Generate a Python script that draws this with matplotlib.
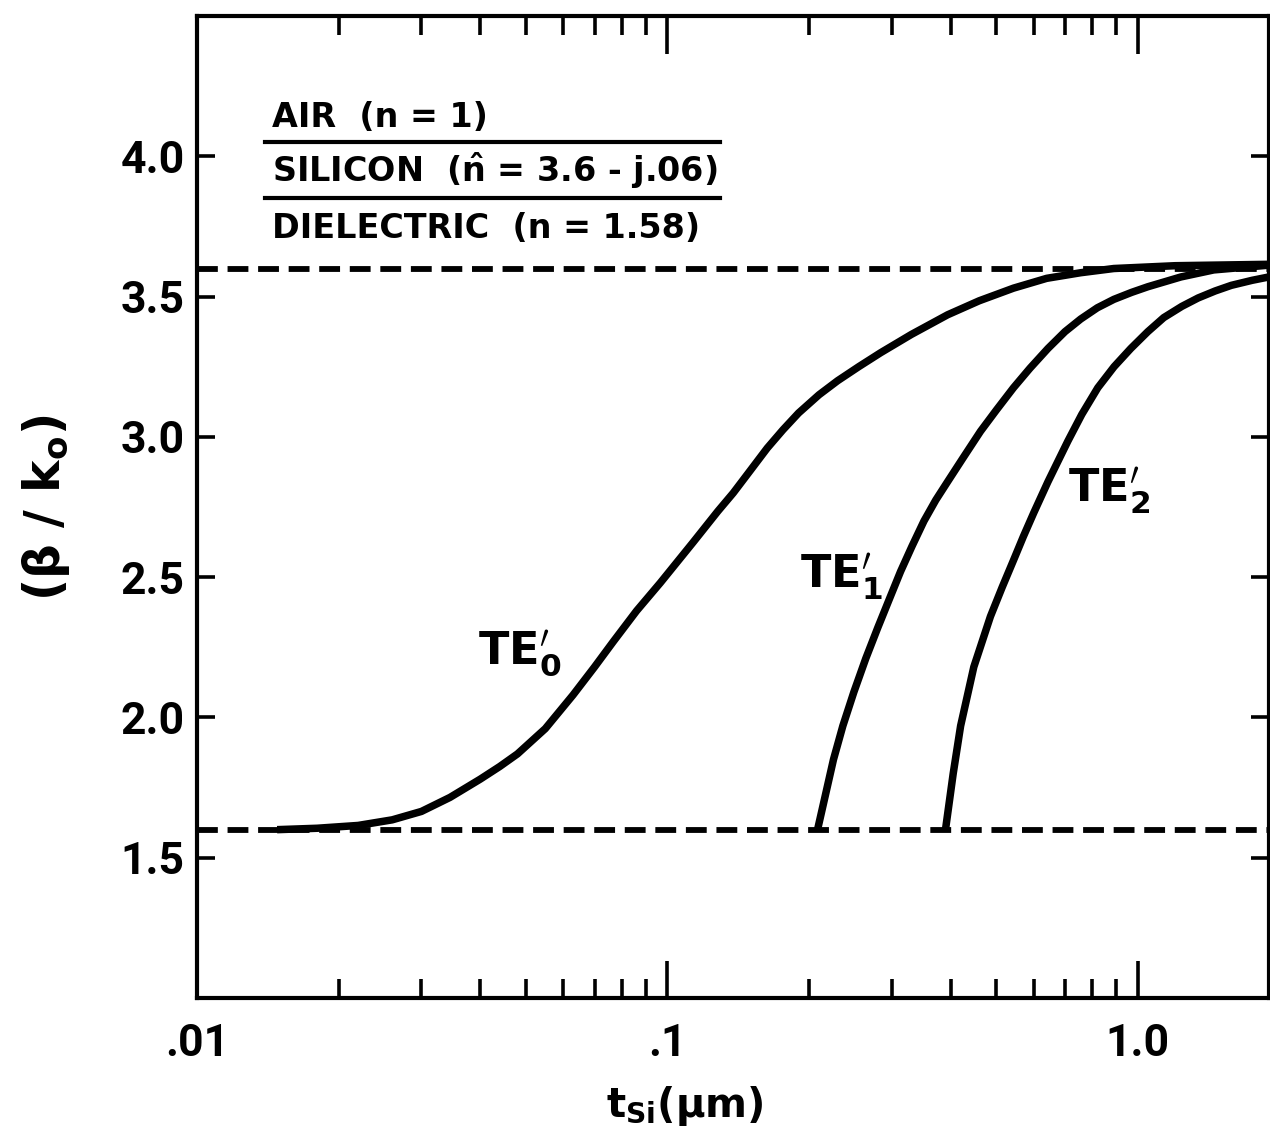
import matplotlib
matplotlib.use("Agg")
import matplotlib.pyplot as plt
from matplotlib.ticker import FixedLocator, NullFormatter, LogLocator

# t_Si in um, beta/k0
te0_t = [0.0148, 0.018, 0.022, 0.026, 0.030, 0.0345, 0.040, 0.044, 0.048, 0.055,
         0.063, 0.070, 0.0767, 0.086, 0.0966, 0.105, 0.1135, 0.128, 0.138, 0.15,
         0.163, 0.176, 0.190, 0.21, 0.23, 0.255, 0.284, 0.33, 0.394, 0.46,
         0.544, 0.64, 0.756, 0.889, 1.2, 1.9]
te0_v = [1.60, 1.605, 1.615, 1.635, 1.665, 1.715, 1.78, 1.825, 1.87, 1.96,
         2.08, 2.18, 2.27, 2.38, 2.48, 2.555, 2.625, 2.735, 2.80, 2.88,
         2.96, 3.025, 3.085, 3.15, 3.20, 3.25, 3.30, 3.365, 3.435, 3.485,
         3.53, 3.565, 3.585, 3.60, 3.61, 3.615]

te1_t = [0.2085, 0.2254, 0.236, 0.249, 0.264, 0.280, 0.296, 0.313, 0.331, 0.351,
         0.372, 0.394, 0.425, 0.463, 0.50, 0.544, 0.59, 0.644, 0.70, 0.756,
         0.82, 0.889, 0.97, 1.05, 1.235, 1.45, 1.9]
te1_v = [1.60, 1.85, 1.97, 2.09, 2.21, 2.32, 2.42, 2.52, 2.61, 2.70,
         2.775, 2.84, 2.925, 3.02, 3.095, 3.175, 3.245, 3.315, 3.375, 3.42,
         3.46, 3.49, 3.515, 3.535, 3.57, 3.595, 3.612]

te2_t = [0.390, 0.405, 0.420, 0.448, 0.486, 0.515, 0.544, 0.571, 0.601, 0.644,
         0.675, 0.71, 0.76, 0.822, 0.89, 0.966, 1.05, 1.135, 1.24, 1.343,
         1.46, 1.58, 1.75, 1.9]
te2_v = [1.60, 1.80, 1.97, 2.18, 2.36, 2.465, 2.56, 2.645, 2.73, 2.84,
         2.91, 2.985, 3.08, 3.175, 3.25, 3.315, 3.375, 3.425, 3.465, 3.495,
         3.52, 3.54, 3.558, 3.57]

n_silicon = 3.6
n_dielectric = 1.6

x_ticks = [0.01, 0.1, 1.0]
x_ticklabels = ['.01', '.1', '1.0']
y_ticks = [1.5, 2.0, 2.5, 3.0, 3.5, 4.0]
y_ticklabels = ['1.5', '2.0', '2.5', '3.0', '3.5', '4.0']

layers = ['AIR  (n = 1)',
          r'SILICON  ($\mathbf{\hat{n}}$ = 3.6 - j.06)',
          'DIELECTRIC  (n = 1.58)']

labels = [r'$\mathbf{TE}_{\mathbf{0}}^{\prime}$', r'$\mathbf{TE}_{\mathbf{1}}^{\prime}$',
          r'$\mathbf{TE}_{\mathbf{2}}^{\prime}$']
label_pos = [(0.0396, 2.187), (0.1913, 2.462), (0.7098, 2.768)]

plt.rcParams['lines.scale_dashes'] = False
plt.rcParams['mathtext.fontset'] = 'dejavusans'

fig = plt.figure(figsize=(12.7, 11.38), dpi=100)
fig.patch.set_facecolor('white')
ax = fig.add_axes([197 / 1270, (1138 - 998) / 1138, 1072 / 1270, 982 / 1138])

for t, v in [(te0_t, te0_v), (te1_t, te1_v), (te2_t, te2_v)]:
    ax.plot(t, v, color='black', lw=5.4, solid_joinstyle='round', solid_capstyle='butt')

for n in [n_silicon, n_dielectric]:
    ax.axhline(n, color='black', lw=4.2, dashes=(15, 7))

ax.set_xscale('log')
ax.set_xlim(0.01, 1.9)
ax.set_ylim(1.0, 4.5)

ax.xaxis.set_major_locator(FixedLocator(x_ticks))
ax.set_xticklabels(x_ticklabels)
ax.xaxis.set_minor_locator(LogLocator(base=10, subs=range(2, 10)))
ax.xaxis.set_minor_formatter(NullFormatter())
ax.set_yticks(y_ticks)
ax.set_yticklabels(y_ticklabels)

for lab in ax.get_xticklabels() + ax.get_yticklabels():
    lab.set_fontfamily('Roboto')
    lab.set_fontweight('bold')
    lab.set_fontsize(32)

ax.tick_params(axis='x', which='major', direction='in', length=27, width=2.6,
               top=True, bottom=True, pad=18)
ax.tick_params(axis='x', which='minor', direction='in', length=14, width=2.6,
               top=True, bottom=True)
ax.tick_params(axis='y', which='major', direction='in', length=13, width=2.6,
               left=True, right=True, pad=9)
for s in ax.spines.values():
    s.set_linewidth(3)

# layer legend
ys = [0.887, 0.831, 0.774]
for txt, y in zip(layers, ys):
    ax.text(0.07, y, txt, transform=ax.transAxes, ha='left', va='baseline',
            fontsize=24, fontweight='bold', family='DejaVu Sans')
for y in [0.8717, 0.8147]:
    ax.plot([0.0634, 0.488], [y, y], transform=ax.transAxes, color='black', lw=3)

for lab, (x, y) in zip(labels, label_pos):
    ax.text(x, y, lab, ha='left', va='baseline', fontsize=32)

fig.text(46 / 1270, (1138 - 508) / 1138, r'($\mathbf{\beta}$ / k$_{\mathbf{o}}$)', rotation=90,
         ha='center', va='center', fontsize=35, fontweight='bold')
fig.text(685 / 1270, 21 / 1138, r't$_{\mathbf{Si}}$(μm)', ha='center', va='baseline',
         fontsize=29, fontweight='bold')

fig.savefig('out.png', dpi=100, facecolor='white')
